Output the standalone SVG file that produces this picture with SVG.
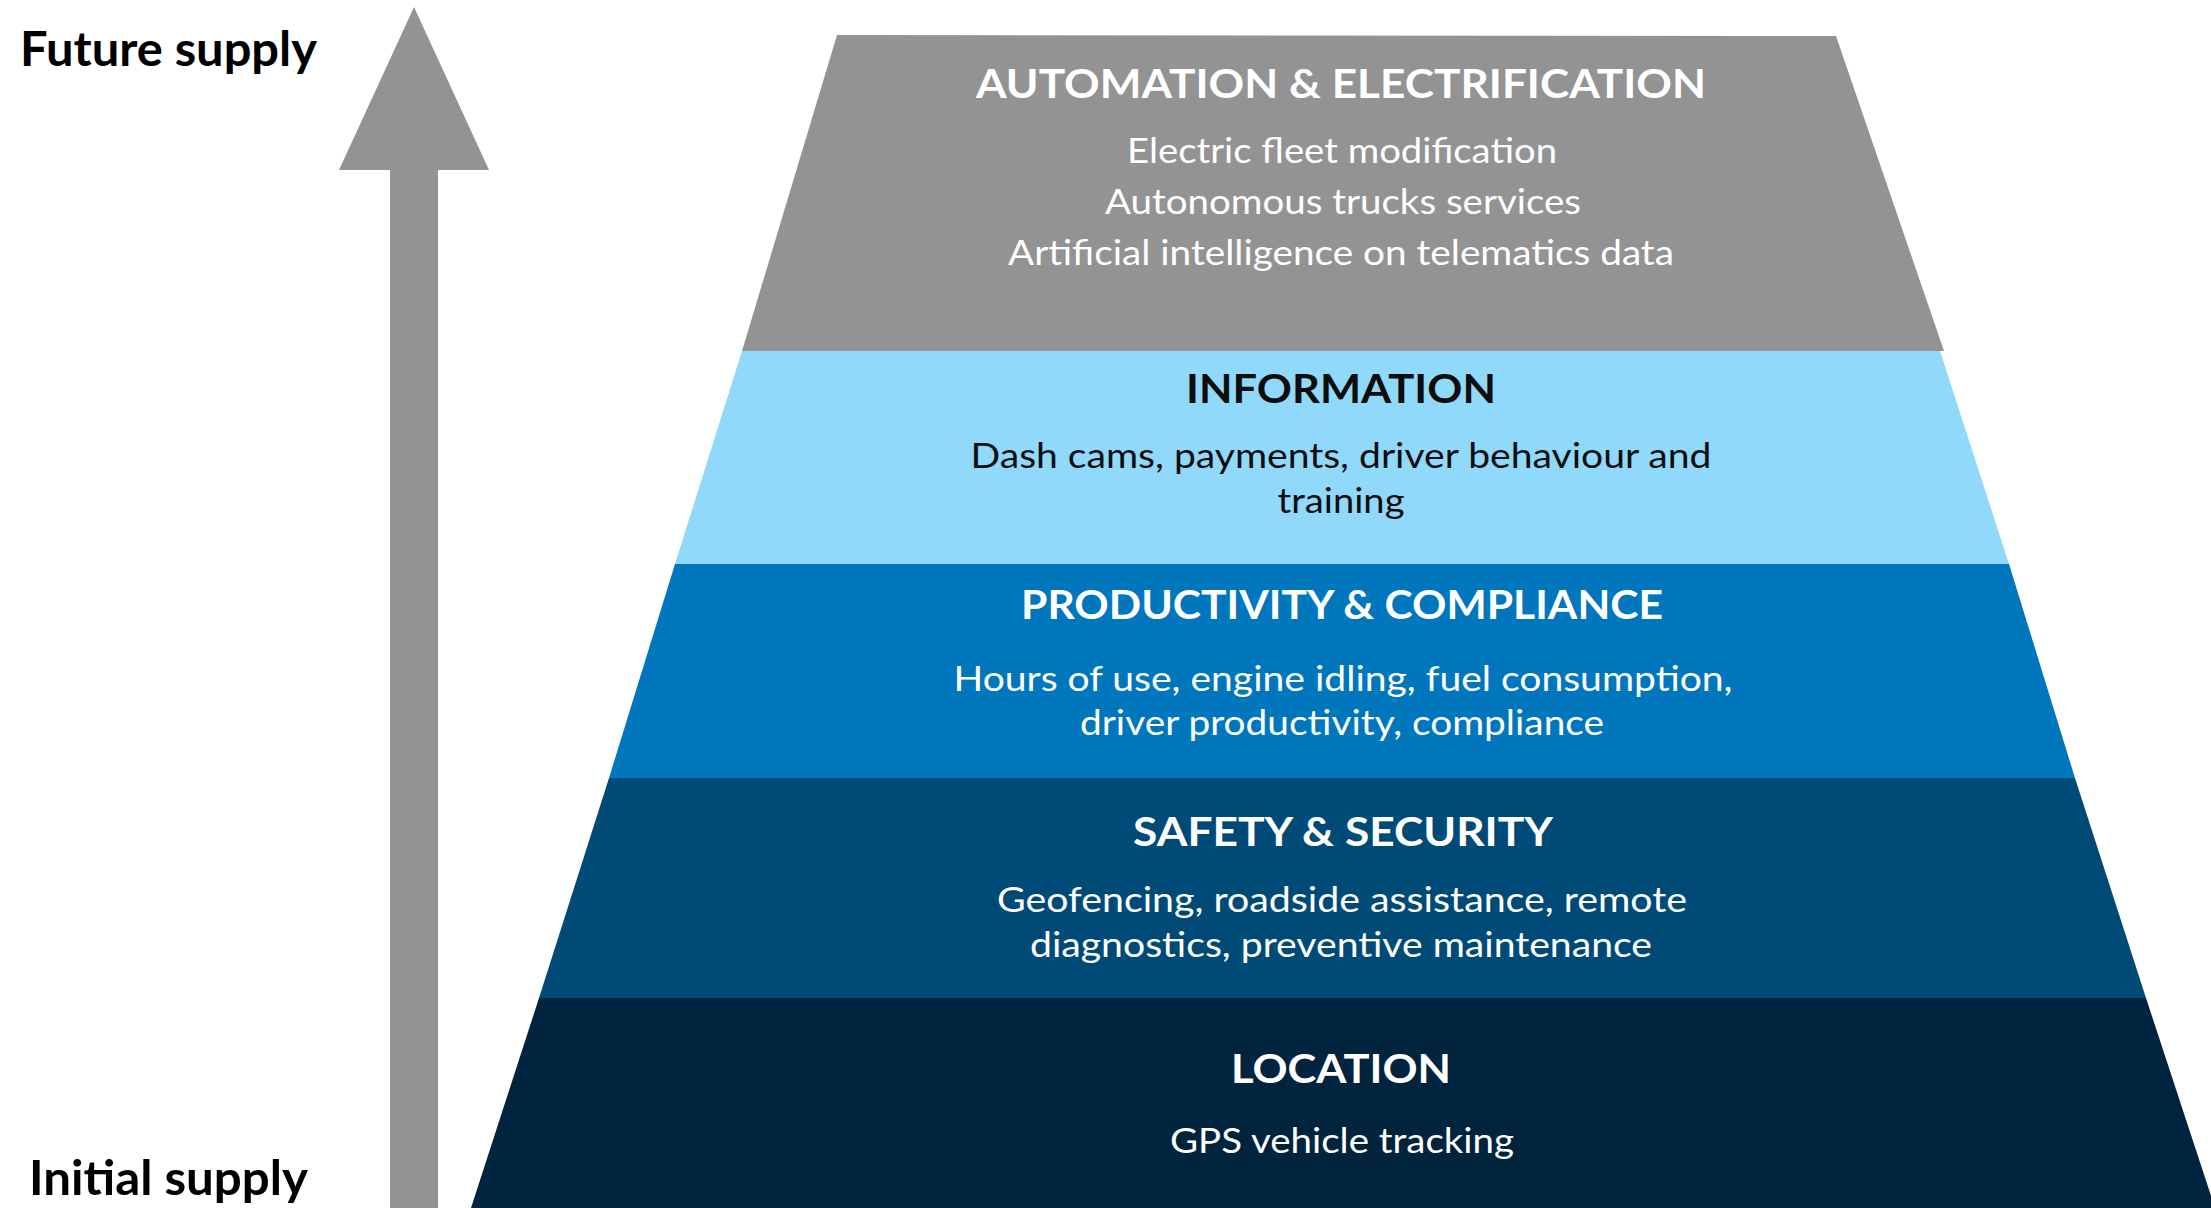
<svg xmlns="http://www.w3.org/2000/svg" width="2211" height="1208" viewBox="0 0 2211 1208">
<style>
.side{font-family:Lato,"Liberation Sans",sans-serif;font-weight:700;font-size:47px;fill:#000}
.hd{font-family:Lato,"Liberation Sans",sans-serif;font-weight:700;font-size:40px;text-anchor:middle}
.bd{font-family:Lato,"Liberation Sans",sans-serif;font-weight:400;font-size:34px;text-anchor:middle}
.w{fill:#fff}
.k{fill:#0d0d0d}
</style>
<rect width="2211" height="1208" fill="#fff"/>
<g id="connectors">
<polygon id="arrow" points="414,7 489,170 438,170 438,1208 390,1208 390,170 339,170" fill="#939393"/>
</g>
<g id="label-future"><text class="side" x="20" y="66" textLength="297" lengthAdjust="spacingAndGlyphs">Future supply</text></g>
<g id="label-initial"><text class="side" x="29" y="1195" textLength="279" lengthAdjust="spacingAndGlyphs">Initial supply</text></g>
<g id="layer-automation">
<polygon points="837,35 1836,36 1944,351 742,351" fill="#939393"/>
<text class="hd w" x="1341" y="98" textLength="730" lengthAdjust="spacingAndGlyphs">AUTOMATION &amp; ELECTRIFICATION</text>
<text class="bd w" x="1342" y="163" textLength="430" lengthAdjust="spacingAndGlyphs">Electric fleet modification</text>
<text class="bd w" x="1343" y="214" textLength="476" lengthAdjust="spacingAndGlyphs">Autonomous trucks services</text>
<text class="bd w" x="1341" y="265" textLength="666" lengthAdjust="spacingAndGlyphs">Artificial intelligence on telematics data</text>
</g>
<g id="layer-information">
<polygon points="742,351 1940,351 2009,564 675,564" fill="#90D9FB"/>
<text class="hd k" x="1341" y="403" textLength="310" lengthAdjust="spacingAndGlyphs">INFORMATION</text>
<text class="bd k" x="1341" y="468" textLength="741" lengthAdjust="spacingAndGlyphs">Dash cams, payments, driver behaviour and</text>
<text class="bd k" x="1341" y="513" textLength="127" lengthAdjust="spacingAndGlyphs">training</text>
</g>
<g id="layer-productivity">
<polygon points="675,564 2009,564 2075,778 609,778" fill="#0077BD"/>
<text class="hd w" x="1342" y="619" textLength="642" lengthAdjust="spacingAndGlyphs">PRODUCTIVITY &amp; COMPLIANCE</text>
<text class="bd w" x="1343" y="691" textLength="779" lengthAdjust="spacingAndGlyphs">Hours of use, engine idling, fuel consumption,</text>
<text class="bd w" x="1342" y="735" textLength="524" lengthAdjust="spacingAndGlyphs">driver productivity, compliance</text>
</g>
<g id="layer-safety">
<polygon points="609,778 2075,778 2146,998 539,998" fill="#004A78"/>
<text class="hd w" x="1343" y="846" textLength="420" lengthAdjust="spacingAndGlyphs">SAFETY &amp; SECURITY</text>
<text class="bd w" x="1342" y="912" textLength="690" lengthAdjust="spacingAndGlyphs">Geofencing, roadside assistance, remote</text>
<text class="bd w" x="1341" y="957" textLength="622" lengthAdjust="spacingAndGlyphs">diagnostics, preventive maintenance</text>
</g>
<g id="layer-location">
<polygon points="539,998 2146,998 2215,1208 471,1208" fill="#00233E"/>
<text class="hd w" x="1341" y="1083" textLength="220" lengthAdjust="spacingAndGlyphs">LOCATION</text>
<text class="bd w" x="1342" y="1153" textLength="344" lengthAdjust="spacingAndGlyphs">GPS vehicle tracking</text>
</g>
</svg>
